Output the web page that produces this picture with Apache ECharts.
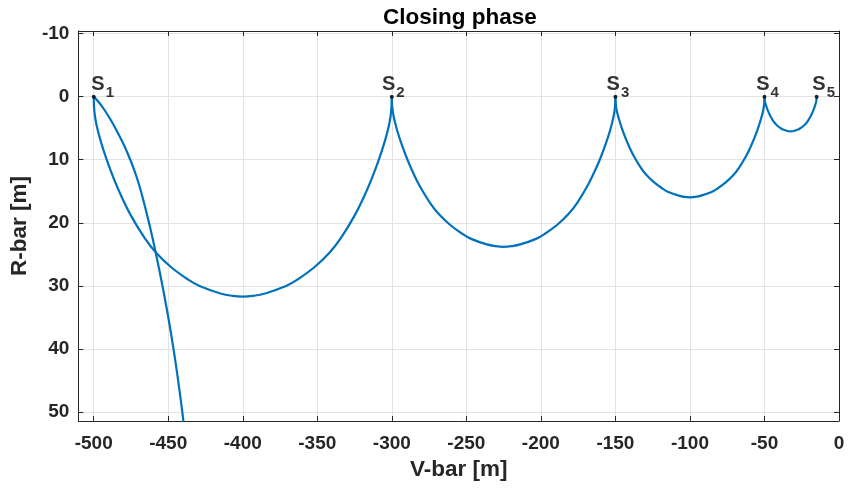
<!DOCTYPE html>
<html>
<head>
<meta charset="utf-8">
<script src="https://cdn.jsdelivr.net/npm/echarts@6/dist/echarts.min.js"></script>
<style>
html,body{margin:0;padding:0;background:#fff;}
#chart{width:848px;height:494px;}
</style>
</head>
<body>
<div id="chart"></div>
<script>
// ---- data ----
const titleText = 'Closing phase';
const xName = 'V-bar [m]';
const yName = 'R-bar [m]';
const xTicks = [-500, -450, -400, -350, -300, -250, -200, -150, -100, -50, 0];
const yTicks = [-10, 0, 10, 20, 30, 40, 50];

// hop S1 -> S2
const hop1 = [
  [-500, 0], [-499.6, 2.22], [-498.3, 4.31], [-495.6, 6.82], [-491.3, 9.99], [-486, 13.31],
  [-481, 16.01], [-475, 18.86], [-466, 22.35], [-458, 24.79], [-448, 27.04], [-437, 28.94],
  [-429, 30.02], [-415, 31.19], [-407, 31.57], [-400, 31.7],
  [-393, 31.57], [-385, 31.19], [-371, 30.02], [-363, 28.94], [-352, 27.04], [-342, 24.79],
  [-334, 22.35], [-325, 18.86], [-319, 16.01], [-314, 13.31], [-308.7, 9.99], [-304.4, 6.82],
  [-301.7, 4.31], [-300.4, 2.22], [-300, 0]
];
// hop S2 -> S3
const hop2 = [
  [-300, 0], [-299.7, 1.67], [-298.7, 3.24], [-296.7, 5.12], [-293.5, 7.5], [-289.5, 10.0],
  [-285.8, 12.02], [-281.3, 14.16], [-274.5, 16.78], [-268.5, 18.61], [-261, 20.3],
  [-252.8, 21.73], [-246.8, 22.54], [-236.3, 23.42], [-230.3, 23.7], [-225, 23.8],
  [-219.8, 23.7], [-213.8, 23.42], [-203.3, 22.54], [-197.3, 21.73], [-189, 20.3],
  [-181.5, 18.61], [-175.5, 16.78], [-168.8, 14.16], [-164.3, 12.02], [-160.5, 10.0],
  [-156.5, 7.5], [-153.3, 5.12], [-151.3, 3.24], [-150.3, 1.67], [-150, 0]
];
// hop S3 -> S4
const hop3 = [
  [-150, 0], [-149.8, 1.12], [-149.15, 2.17], [-147.8, 3.43], [-145.65, 5.02], [-143, 6.7],
  [-140.5, 8.05], [-137.5, 9.49], [-133, 11.24], [-129, 12.47], [-124, 13.6], [-118.5, 14.56],
  [-114.5, 15.1], [-107.5, 15.69], [-103.5, 15.89], [-100, 15.95],
  [-96.5, 15.89], [-92.5, 15.69], [-85.5, 15.1], [-81.5, 14.56], [-76, 13.6], [-71, 12.47],
  [-67, 11.24], [-62.5, 9.49], [-59.5, 8.05], [-57, 6.7], [-54.35, 5.02], [-52.2, 3.43],
  [-50.85, 2.17], [-50.2, 1.12], [-50, 0]
];
// hop S4 -> S5
const hop4 = [
  [-50, 0], [-49.93, 0.385], [-49.7, 0.75], [-49.23, 1.18], [-48.48, 1.73], [-47.55, 2.31],
  [-46.67, 2.78], [-45.62, 3.27], [-44.05, 3.88], [-42.65, 4.3], [-40.9, 4.69], [-38.97, 5.02],
  [-37.57, 5.21], [-35.12, 5.41], [-33.72, 5.48], [-32.5, 5.5],
  [-31.28, 5.48], [-29.88, 5.41], [-27.43, 5.21], [-26.03, 5.02], [-24.1, 4.69], [-22.35, 4.3],
  [-20.95, 3.88], [-19.38, 3.27], [-18.33, 2.78], [-17.45, 2.31], [-16.52, 1.73], [-15.77, 1.18],
  [-15.3, 0.75], [-15.07, 0.385], [-15, 0]
];
// free drift from S1
const drift = [
  [-500, 0], [-496.2, 1], [-493.1, 2], [-489.05, 3.5], [-485.45, 5], [-480.05, 7.5],
  [-475.45, 10], [-471.55, 12.5], [-468.3, 15], [-462.9, 20], [-458.15, 25], [-453.85, 30],
  [-449.95, 35], [-446.45, 40], [-443.35, 45], [-440.55, 50], [-439.8, 51.5]
];
// hop points S1..S5
const stationX = [-500, -300, -150, -50, -15];
const stationY = [0, 0, 0, 0, 0];
const stationNames = ['1', '2', '3', '4', '5'];

// ---- styling / layout ----
const labelDx = [9, 1.5, 2.5, 3, 7];
const axisColor = '#262626';
const gridColor = '#e3e3e3';
const lineColor = '#0072BD';
const fontFam = '"Liberation Sans", Arial, Helvetica, sans-serif';
const X_MIN = -510.3, X_MAX = 0, Y_MIN = -10.4, Y_MAX = 51.4;

const chart = echarts.init(document.getElementById('chart'), null, {renderer: 'canvas'});

function mkX(primary) {
  return {
    type: 'value', min: X_MIN, max: X_MAX,
    position: primary ? 'bottom' : 'top',
    name: primary ? xName : '',
    nameLocation: 'middle', nameGap: 31,
    nameTextStyle: {fontFamily: fontFam, fontWeight: 'bold', fontSize: 22.5, color: axisColor},
    axisLine: {show: true, onZero: false, lineStyle: {color: axisColor, width: 1}},
    axisTick: {show: true, inside: true, length: 5, customValues: xTicks, lineStyle: {color: axisColor}},
    axisLabel: {show: primary, customValues: xTicks, margin: 13, fontFamily: fontFam, fontWeight: 'bold', fontSize: 19, color: axisColor},
    splitLine: {show: primary, lineStyle: {color: gridColor, width: 1}}
  };
}
function mkY(primary) {
  return {
    type: 'value', min: Y_MIN, max: Y_MAX, inverse: true,
    position: primary ? 'left' : 'right',
    name: primary ? yName : '',
    nameLocation: 'middle', nameGap: 44,
    nameTextStyle: {fontFamily: fontFam, fontWeight: 'bold', fontSize: 22.5, color: axisColor},
    axisLine: {show: true, onZero: false, lineStyle: {color: axisColor, width: 1}},
    axisTick: {show: true, inside: true, length: 5, customValues: yTicks, lineStyle: {color: axisColor}},
    axisLabel: {show: primary, customValues: yTicks, margin: 9, fontFamily: fontFam, fontWeight: 'bold', fontSize: 19, color: axisColor},
    splitLine: {show: primary, lineStyle: {color: gridColor, width: 1}}
  };
}

function lineSeries(name, data) {
  return {
    name: name, type: 'line', data: data, xAxisIndex: 0, yAxisIndex: 0,
    showSymbol: false, smooth: 0.4, clip: true,
    lineStyle: {color: lineColor, width: 2.2}, z: 3
  };
}

const stationData = stationX.map((x, i) => ({
  value: [x, stationY[i]],
  label: {offset: [labelDx[i], 0], formatter: '{s|S}{n|' + stationNames[i] + '}'}
}));

chart.setOption({
  animation: false,
  backgroundColor: '#fff',
  title: {
    text: titleText, left: 455, top: 1, textAlign: 'center',
    textStyle: {fontFamily: fontFam, fontWeight: 'bold', fontSize: 22.5, color: '#000'}
  },
  grid: {left: 78, top: 31, right: 9, bottom: 73, containLabel: false},
  xAxis: [mkX(true), mkX(false)],
  yAxis: [mkY(true), mkY(false)],
  series: [
    lineSeries('hop1', hop1),
    lineSeries('hop2', hop2),
    lineSeries('hop3', hop3),
    lineSeries('hop4', hop4),
    lineSeries('drift', drift),
    {
      type: 'scatter', data: stationData, symbolSize: 4, z: 5,
      itemStyle: {color: '#000'},
      label: {
        show: true, position: 'top', distance: 0, color: '#000',
        rich: {
          s: {fontFamily: fontFam, fontWeight: 'bold', fontSize: 20, lineHeight: 20, verticalAlign: 'top', color: '#000'},
          n: {fontFamily: fontFam, fontWeight: 'bold', fontSize: 15, lineHeight: 15, verticalAlign: 'top', padding: [11, 0, 0, 1], color: '#000'}
        }
      }
    }
  ]
});
</script>
</body>
</html>
